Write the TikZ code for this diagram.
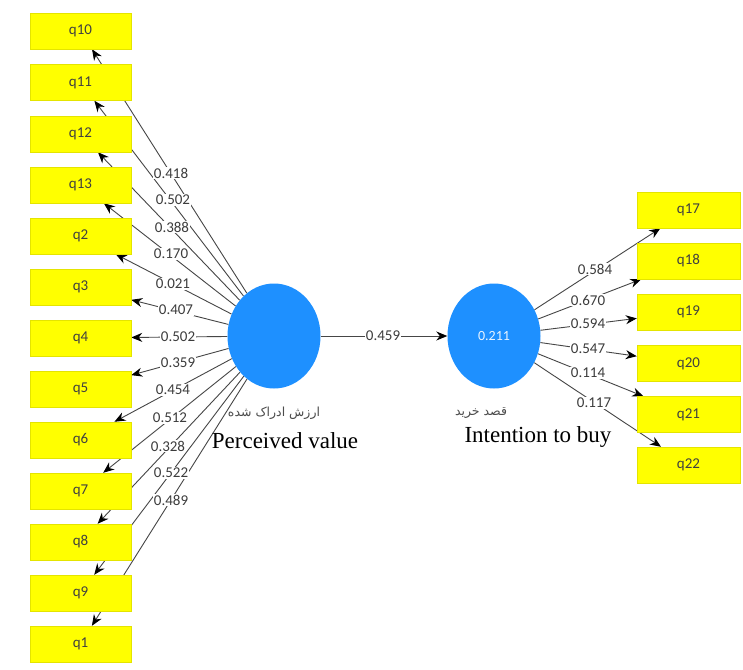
\documentclass[tikz,border=0pt]{standalone}
\usepackage{fontspec}
\setmainfont{Liberation Serif}
\newfontfamily\numfont{Carlito}
\newfontfamily\arabicfont[Script=Arabic]{DejaVu Sans}
\TeXXeTstate=1
\usetikzlibrary{shapes.geometric,arrows.meta}
\pgfdeclarelayer{bg}
\pgfsetlayers{bg,main}
\definecolor{lvblue}{RGB}{30,144,255}
\definecolor{mvyellow}{RGB}{255,255,0}
\definecolor{mvedge}{RGB}{228,228,0}
\definecolor{linegray}{RGB}{70,70,70}
\definecolor{numgray}{RGB}{60,60,60}
\begin{document}
\begin{tikzpicture}[x=1pt,y=-1pt,
  item/.style={rectangle, fill=mvyellow, draw=mvedge, line width=0.5pt,
    minimum width=101pt, minimum height=36pt, inner sep=0pt,
    font=\numfont\fontsize{15}{15}\selectfont, text=black!75},
  latent/.style={ellipse, fill=lvblue, minimum width=93pt, minimum height=105pt, inner sep=0pt},
  conn/.style={draw=linegray, line width=0.9pt, -{Stealth[length=11pt,width=9pt,color=black]}},
  coef/.style={fill=white, inner sep=0.6pt, text=numgray, font=\numfont\fontsize{15}{15}\selectfont},
  lvname/.style={anchor=base, text=black, font=\fontsize{23}{23}\selectfont},
  faname/.style={text=black!70, font=\arabicfont\fontsize{12.5}{12.5}\selectfont}
]
\useasboundingbox (0,0) rectangle (743,669);
\begin{pgfonlayer}{bg}
\fill[white] (0,0) rectangle (743,669);
\end{pgfonlayer}

% latent variables
\node[latent] (pv) at (274,336) {};
\node[latent, text=white!90!lvblue, font=\numfont\fontsize{14}{14}\selectfont] (ib) at (494,336) {0.211};

\node[faname] (pvfa) at (274,413) {\beginR ارزش ادراک شده\endR};
\node[lvname] (pvname) at (285,448) {Perceived value};
\node[faname] (ibfa) at (481,413) {\beginR قصد خرید\endR};
\node[lvname] (ibname) at (538,442) {Intention to buy};

% left indicators
\node[item] (q10) at (80.5,31) {q10};
\node[item] (q11) at (80.5,82.5) {q11};
\node[item] (q12) at (80.5,134) {q12};
\node[item] (q13) at (80.5,185) {q13};
\node[item] (q2) at (80.5,236) {q2};
\node[item] (q3) at (80.5,287) {q3};
\node[item] (q4) at (80.5,338) {q4};
\node[item] (q5) at (80.5,389) {q5};
\node[item] (q6) at (80.5,440) {q6};
\node[item] (q7) at (80.5,491) {q7};
\node[item] (q8) at (80.5,542) {q8};
\node[item] (q9) at (80.5,593) {q9};
\node[item] (q1) at (80.5,644) {q1};

% right indicators
\node[item, minimum width=103pt] (q17) at (688.5,210) {q17};
\node[item, minimum width=103pt] (q18) at (688.5,261) {q18};
\node[item, minimum width=103pt] (q19) at (688.5,312) {q19};
\node[item, minimum width=103pt] (q20) at (688.5,363.5) {q20};
\node[item, minimum width=103pt] (q21) at (688.5,414.5) {q21};
\node[item, minimum width=103pt] (q22) at (688.5,465) {q22};

% connectors
\begin{pgfonlayer}{bg}
\foreach \q in {q10,q11,q12,q13,q2,q3,q4,q5,q6,q7,q8,q9,q1}
  \draw[conn] (pv) -- (\q);
\foreach \q in {q17,q18,q19,q20,q21,q22}
  \draw[conn] (ib) -- (\q);
\draw[conn] (pv) -- (ib);
\end{pgfonlayer}

% loadings (left)
\node[coef] (l10) at (171,173) {0.418};
\node[coef] (l11) at (173,200) {0.502};
\node[coef] (l12) at (172,227) {0.388};
\node[coef] (l13) at (171,254) {0.170};
\node[coef] (l2) at (173,284) {0.021};
\node[coef] (l3) at (176,310) {0.407};
\node[coef] (l4) at (178,337) {0.502};
\node[coef] (l5) at (178,363) {0.359};
\node[coef] (l6) at (173,390) {0.454};
\node[coef] (l7) at (170,418) {0.512};
\node[coef] (l8) at (168,446) {0.328};
\node[coef] (l9) at (171,473) {0.522};
\node[coef] (l1) at (171,500) {0.489};

% path coefficient
\node[coef] (pc) at (383,336) {0.459};

% loadings (right)
\node[coef] (l17) at (595,269) {0.584};
\node[coef] (l18) at (588,300) {0.670};
\node[coef] (l19) at (588,324) {0.594};
\node[coef] (l20) at (588,349) {0.547};
\node[coef] (l21) at (588,373) {0.114};
\node[coef] (l22) at (594,403) {0.117};
\end{tikzpicture}
\end{document}
